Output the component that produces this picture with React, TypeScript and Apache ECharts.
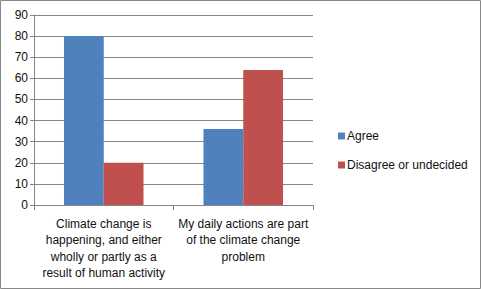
import React, { useEffect, useRef } from "react";
import * as echarts from "echarts";

const categories = [
  "Climate change is\nhappening, and either\nwholly or partly as a\nresult of human activity",
  "My daily actions are part\nof the climate change\nproblem",
];
const agree = [80, 36];
const disagree = [20, 64];
const seriesNames = ["Agree", "Disagree or undecided"];

export default function App() {
  const ref = useRef<HTMLDivElement>(null);
  useEffect(() => {
    if (!ref.current) return;
    const chart = echarts.init(ref.current, undefined, { renderer: "svg" });
    const font = "'Liberation Sans', 'DejaVu Sans', sans-serif";
    chart.setOption({
      animation: false,
      backgroundColor: "#ffffff",
      textStyle: { fontFamily: font },
      graphic: [
        {
          type: "rect",
          shape: { x: 0.5, y: 0.5, width: 480, height: 288 },
          style: { fill: "none", stroke: "#888888", lineWidth: 1 },
          silent: true,
        },
      ],
      grid: { left: 34, right: 168, top: 15, bottom: 84 },
      legend: {
        orient: "vertical",
        left: 333,
        top: 125,
        itemWidth: 7,
        itemHeight: 7,
        itemGap: 17,
        icon: "rect",
        data: seriesNames,
        textStyle: { fontSize: 12, color: "#111", fontFamily: font, padding: [0, 0, 0, -3] },
      },
      xAxis: {
        type: "category",
        data: categories,
        axisLine: { lineStyle: { color: "#868686" } },
        axisTick: { show: true, length: 5, lineStyle: { color: "#868686" } },
        axisLabel: {
          interval: 0,
          fontSize: 12,
          color: "#111",
          lineHeight: 16.3,
          margin: 11,
          fontFamily: font,
        },
      },
      yAxis: {
        type: "value",
        min: 0,
        max: 90,
        interval: 10,
        axisLine: { show: true, lineStyle: { color: "#868686" } },
        axisTick: { show: true, length: 4, lineStyle: { color: "#868686" } },
        splitLine: { lineStyle: { color: "#868686" } },
        axisLabel: { fontSize: 12, color: "#111", margin: 6, fontFamily: font },
      },
      series: [
        {
          name: seriesNames[0],
          type: "bar",
          data: agree,
          itemStyle: { color: "#4F81BD" },
          barGap: "0%",
          barCategoryGap: "43%",
        },
        {
          name: seriesNames[1],
          type: "bar",
          data: disagree,
          itemStyle: { color: "#C0504D" },
          barGap: "0%",
          barCategoryGap: "43%",
        },
      ],
    });
    return () => chart.dispose();
  }, []);
  return (
    <div
      ref={ref}
      style={{ position: "fixed", left: 0, top: 0, width: 481, height: 289 }}
    />
  );
}
